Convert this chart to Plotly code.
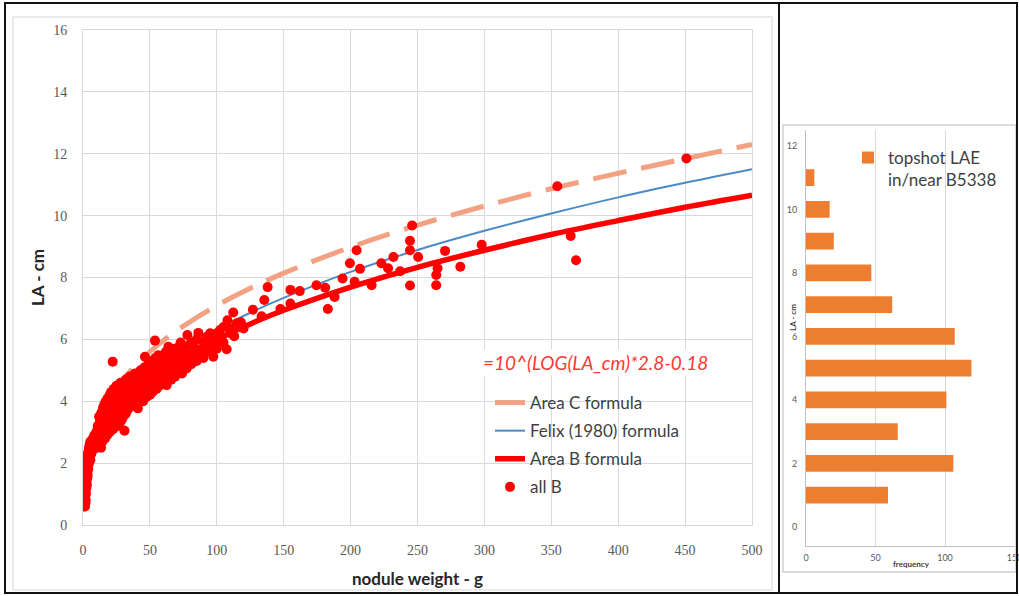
import plotly.graph_objects as go

W_FIG, H_FIG = 1019, 596

# ---------------- data ----------------
curve_w = [0.5, 1, 2, 3, 5, 7, 10, 15, 20, 30, 40, 50, 60, 75, 100, 125, 150,
           200, 250, 300, 350, 400, 450, 500]
area_c = [1.16, 1.47, 1.87, 2.15, 2.55, 2.86, 3.23, 3.71, 4.10, 4.70, 5.19, 5.60,
          5.96, 6.43, 7.09, 7.65, 8.14, 8.98, 9.69, 10.31, 10.87, 11.37, 11.84, 12.30]
felix = [0.88, 1.13, 1.47, 1.71, 2.07, 2.34, 2.67, 3.11, 3.46, 4.03, 4.49, 4.87,
         5.22, 5.67, 6.31, 6.86, 7.34, 8.18, 8.89, 9.51, 10.07, 10.59, 11.06, 11.50]
area_b = [0.91, 1.16, 1.49, 1.72, 2.06, 2.32, 2.64, 3.05, 3.38, 3.91, 4.33, 4.69,
          5.00, 5.42, 6.00, 6.50, 6.94, 7.69, 8.33, 8.88, 9.39, 9.84, 10.27, 10.66]

# "all B" measured nodules (weight g, LA cm)
pts_w = [
    451, 354.5, 364.5, 368.5, 298, 282, 270.6, 265, 264, 264, 250.5, 246, 244.4, 244.4,
    244.4, 237, 232, 228, 223, 215.7, 207, 204.5, 203, 199.5, 194, 188, 183, 181, 174.5,
    162, 155, 155, 147.5, 138, 135.5, 133.5, 127, 115, 112.3, 108, 102.4, 107.4, 97.4,
    92.4, 86.2, 78, 80, 72.5, 63.8, 53.8, 22.2,
    110, 118, 120, 113, 104, 100, 95, 90, 88, 83,
    1.0, 1.5, 0.8, 1.8, 1.2, 2.0, 0.9, 1.6, 1.3, 2.2, 1.0, 1.9, 1.5, 2.5,
    1.2, 2.1, 2.9, 1.7, 2.6, 2.0, 3.1, 1.8, 2.6, 3.5, 2.3, 3.2, 2.1, 3.0, 3.9,
    2.7, 3.6, 2.6, 3.4, 4.5, 3.1, 4.2, 5.5, 3.0, 3.9, 5.0, 3.6, 4.6, 6.2,
    4.2, 5.4, 7.0, 4.5, 6.0, 8.0, 10.5, 13.5, 5.0, 7.0, 9.5, 12.0,
    5.5, 8.0, 11.0, 14.5, 7.5, 10.0, 13.0, 16.5, 8.5, 11.5, 15.0, 18.0,
    10.0, 13.0, 16.5, 20.0, 11.0, 14.5, 18.5, 22.5, 31.0,
    11.0, 15.0, 20.0, 26.0, 12.5, 16.0, 21.5, 27.5, 13.0, 17.5, 23.0, 29.0,
    12.0, 15.0, 19.0, 24.5, 30.0, 13.5, 16.5, 21.0, 26.0, 32.0,
    14.5, 18.0, 22.5, 28.0, 33.0, 15.0, 19.5, 24.0, 29.5, 35.0, 41.0,
    16.0, 20.5, 25.5, 31.0, 36.0, 17.0, 21.5, 27.0, 32.5, 38.0, 45.0,
    18.5, 23.0, 28.5, 34.0, 40.0, 47.6, 20.0, 24.5, 30.0, 36.0, 42.0, 50.0,
    21.0, 26.0, 33.9, 38.0, 44.0, 52.0, 23.0, 28.0, 35.0, 40.0, 47.0, 55.0,
    25.0, 31.0, 37.0, 43.0, 50.0, 57.0, 62.5, 28.0, 34.0, 40.0, 46.0, 53.0, 60.0,
    32.0, 38.0, 44.0, 50.0, 56.0, 66.0, 35.0, 41.0, 48.0, 55.0, 62.0, 68.8,
    39.0, 45.0, 52.0, 59.0, 66.0, 74.0, 43.0, 50.0, 57.0, 64.0, 72.0, 77.5,
    46.0, 54.0, 61.0, 69.0, 76.0, 52.5, 58.0, 65.0, 73.0, 81.0,
    49.0, 56.0, 63.0, 70.0, 78.0, 85.0, 46.3, 54.0, 60.0, 68.0, 75.0, 83.0, 90.0,
    56.3, 65.0, 72.0, 80.0, 88.0, 62.0, 70.0, 77.0, 86.0, 95.0,
    68.0, 75.0, 84.0, 93.0, 100.0, 73.0, 82.0, 90.0, 98.0, 105.0,
    85.0, 96.0, 103.0, 95.0, 100.0, 110.0, 105.0, 118.0,
]
pts_la = [
    11.85, 10.95, 9.34, 8.56, 9.06, 8.35, 8.86, 8.30, 8.08, 7.75, 8.66, 9.68, 9.19, 8.88,
    7.74, 8.20, 8.66, 8.30, 8.46, 7.75, 8.28, 8.88, 7.86, 8.46, 7.97, 7.37, 6.98, 7.67, 7.75,
    7.56, 7.60, 7.16, 6.98, 7.69, 7.27, 6.75, 6.96, 6.52, 6.87, 6.62, 6.30, 5.68, 5.44,
    6.08, 6.21, 6.14, 5.85, 5.82, 5.76, 5.96, 5.28,
    6.35, 6.55, 6.35, 6.10, 5.95, 5.75, 5.90, 5.65, 5.45, 5.55,
    0.6, 0.6, 0.7, 0.7, 0.8, 0.8, 0.9, 0.9, 1.0, 1.0, 1.1, 1.1, 1.2, 1.2,
    1.3, 1.3, 1.3, 1.4, 1.4, 1.5, 1.5, 1.6, 1.6, 1.6, 1.7, 1.7, 1.8, 1.8, 1.8,
    1.9, 1.9, 2.0, 2.0, 2.0, 2.1, 2.1, 2.1, 2.2, 2.2, 2.2, 2.3, 2.3, 2.3,
    2.4, 2.4, 2.4, 2.5, 2.5, 2.5, 2.5, 2.5, 2.6, 2.6, 2.6, 2.6,
    2.7, 2.7, 2.7, 2.7, 2.8, 2.8, 2.8, 2.8, 2.9, 2.9, 2.9, 2.9,
    3.0, 3.0, 3.0, 3.0, 3.1, 3.1, 3.1, 3.1, 3.05,
    3.2, 3.2, 3.2, 3.2, 3.3, 3.3, 3.3, 3.3, 3.4, 3.4, 3.4, 3.4,
    3.5, 3.5, 3.5, 3.5, 3.5, 3.6, 3.6, 3.6, 3.6, 3.6,
    3.7, 3.7, 3.7, 3.7, 3.7, 3.8, 3.8, 3.8, 3.8, 3.8, 3.77,
    3.9, 3.9, 3.9, 3.9, 3.9, 4.0, 4.0, 4.0, 4.0, 4.0, 4.0,
    4.1, 4.1, 4.1, 4.1, 4.1, 4.15, 4.2, 4.2, 4.2, 4.2, 4.2, 4.2,
    4.3, 4.3, 4.36, 4.3, 4.3, 4.3, 4.4, 4.4, 4.4, 4.4, 4.4, 4.4,
    4.5, 4.5, 4.5, 4.5, 4.5, 4.5, 4.52, 4.6, 4.6, 4.6, 4.6, 4.6, 4.6,
    4.7, 4.7, 4.7, 4.7, 4.7, 4.7, 4.8, 4.8, 4.8, 4.8, 4.8, 4.79,
    4.9, 4.9, 4.9, 4.9, 4.9, 4.9, 5.0, 5.0, 5.0, 5.0, 5.0, 5.06,
    5.1, 5.1, 5.1, 5.1, 5.1, 5.17, 5.2, 5.2, 5.2, 5.2,
    5.3, 5.3, 5.3, 5.3, 5.3, 5.3, 5.44, 5.4, 5.4, 5.4, 5.4, 5.4, 5.4,
    5.49, 5.5, 5.5, 5.5, 5.5, 5.6, 5.6, 5.6, 5.6, 5.6,
    5.7, 5.7, 5.7, 5.7, 5.7, 5.9, 5.9, 5.9, 5.9, 5.9,
    6.0, 6.0, 6.0, 6.2, 6.2, 6.2, 6.4, 6.4,
]

hist_la = [1, 2, 3, 4, 5, 6, 7, 8, 9, 10, 11]
hist_freq = [59, 106, 66, 101, 119, 107, 62, 47, 20, 17, 6]

x_ticks = [0, 50, 100, 150, 200, 250, 300, 350, 400, 450, 500]
y_ticks = [0, 2, 4, 6, 8, 10, 12, 14, 16]
hx_ticks = [0, 50, 100, 150]
hy_ticks = [0, 2, 4, 6, 8, 10, 12]


def px(x):
    return x / W_FIG


def py(y):
    return 1 - y / H_FIG


fig = go.Figure()

fig.add_trace(go.Scatter(x=curve_w, y=area_c, mode="lines", name="Area C formula",
                         line=dict(color="#F2A283", width=5, dash="34px,15px", shape="spline"),
                         legendgroup="a"))
fig.add_trace(go.Scatter(x=curve_w, y=felix, mode="lines", name="Felix (1980) formula",
                         line=dict(color="#4A8AC8", width=2, shape="spline"),
                         legendgroup="b"))
fig.add_trace(go.Scatter(x=curve_w, y=area_b, mode="lines", name="Area B formula",
                         line=dict(color="#FF0000", width=5.5, shape="spline"),
                         legendgroup="c"))
fig.add_trace(go.Scatter(x=pts_w, y=pts_la, mode="markers", name="all B",
                         marker=dict(color="#FF0000", size=10, line=dict(width=0)),
                         legendgroup="d"))

fig.add_trace(go.Bar(x=hist_freq, y=hist_la, orientation="h", name="topshot LAE<br>in/near B5338",
                     marker=dict(color="#ED7D31", line=dict(width=0)), width=0.53,
                     xaxis="x2", yaxis="y2", legend="legend2"))

grid = "#D9D9D9"
tick_font = dict(family="Liberation Serif", size=14, color="#595959")
small_font = dict(family="Lato", size=9, color="#595959")


def note(text, x, y, size, color, angle=0, bg=None, family="Lato"):
    d = dict(text=text, x=px(x), y=py(y), xref="paper", yref="paper",
             xanchor="center", yanchor="middle", showarrow=False, textangle=angle,
             font=dict(family=family, size=size, color=color))
    if bg:
        d["bgcolor"] = bg
    return d


fig.update_layout(
    width=W_FIG, height=H_FIG, autosize=False,
    margin=dict(l=0, r=0, t=0, b=0, pad=0, autoexpand=False),
    paper_bgcolor="white", plot_bgcolor="white",
    showlegend=True,
    xaxis=dict(domain=[px(83), px(752)], range=[0, 500], tickvals=x_ticks,
               showgrid=True, gridcolor=grid, gridwidth=1, zeroline=False,
               showline=True, linecolor=grid, mirror=True, ticks="", automargin=False,
               tickfont=tick_font, ticklabelstandoff=12, anchor="y"),
    yaxis=dict(domain=[py(525), py(30)], range=[0, 16], tickvals=y_ticks,
               showgrid=True, gridcolor=grid, gridwidth=1, zeroline=False,
               showline=True, linecolor=grid, mirror=True, ticks="", automargin=False,
               tickfont=tick_font, ticklabelstandoff=12, anchor="x"),
    xaxis2=dict(domain=[px(806), px(1014.5)], range=[0, 150], tickvals=hx_ticks,
                showgrid=True, gridcolor=grid, zeroline=False,
                showline=True, linecolor="#BFBFBF", ticks="", automargin=False,
                ticklabeloverflow="allow",
                tickfont=small_font, ticklabelstandoff=3, anchor="y2"),
    yaxis2=dict(domain=[py(546), py(130)], range=[-0.6, 12.5], tickvals=hy_ticks,
                showgrid=False, zeroline=False,
                showline=True, linecolor="#BFBFBF", ticks="", automargin=False,
                tickfont=small_font, ticklabelstandoff=6, anchor="x2"),
    legend=dict(x=px(490), y=py(385), xanchor="left", yanchor="top",
                bgcolor="rgba(0,0,0,0)", borderwidth=0, tracegroupgap=3,
                font=dict(family="Lato", size=17, color="#404040"),
                itemwidth=30),
    legend2=dict(x=px(848), y=py(140), xanchor="left", yanchor="top",
                 bgcolor="rgba(0,0,0,0)", valign="top",
                 font=dict(family="Lato", size=17, color="#404040")),
    annotations=[
        note("<i>=10^(LOG(LA_cm)*2.8-0.18</i>", 595, 362, 19, "#FF3838", bg="white"),
        note("<b>nodule weight - g</b>", 417, 578, 17, "#262626"),
        note("<b>LA - cm</b>", 38, 278, 17, "#262626", angle=-90),
        note("<b>frequency</b>", 911, 564, 8, "#404040"),
        note("<b>LA - cm</b>", 793, 318, 8, "#404040", angle=-90),
    ],
    shapes=[
        dict(type="rect", xref="paper", yref="paper", x0=px(463), x1=px(712),
             y0=py(494), y1=py(384), line=dict(width=0), fillcolor="white",
             layer="between"),
        dict(type="rect", xref="paper", yref="paper", x0=px(13), x1=px(772),
             y0=py(590), y1=py(17), line=dict(color="#E3E3E3", width=1.5)),
        dict(type="rect", xref="paper", yref="paper", x0=px(783), x1=px(1016),
             y0=py(572), y1=py(125), line=dict(color="#D0D0D0", width=1.5)),
        dict(type="rect", xref="paper", yref="paper", x0=px(5), x1=px(1017),
             y0=py(593), y1=py(3), line=dict(color="#111111", width=2)),
        dict(type="line", xref="paper", yref="paper", x0=px(779), x1=px(779),
             y0=py(593), y1=py(3), line=dict(color="#111111", width=2)),
    ],
)

fig.write_html("out.html", config={"displayModeBar": False},
               post_script="document.body.style.margin='0';document.body.style.overflow='hidden';")
